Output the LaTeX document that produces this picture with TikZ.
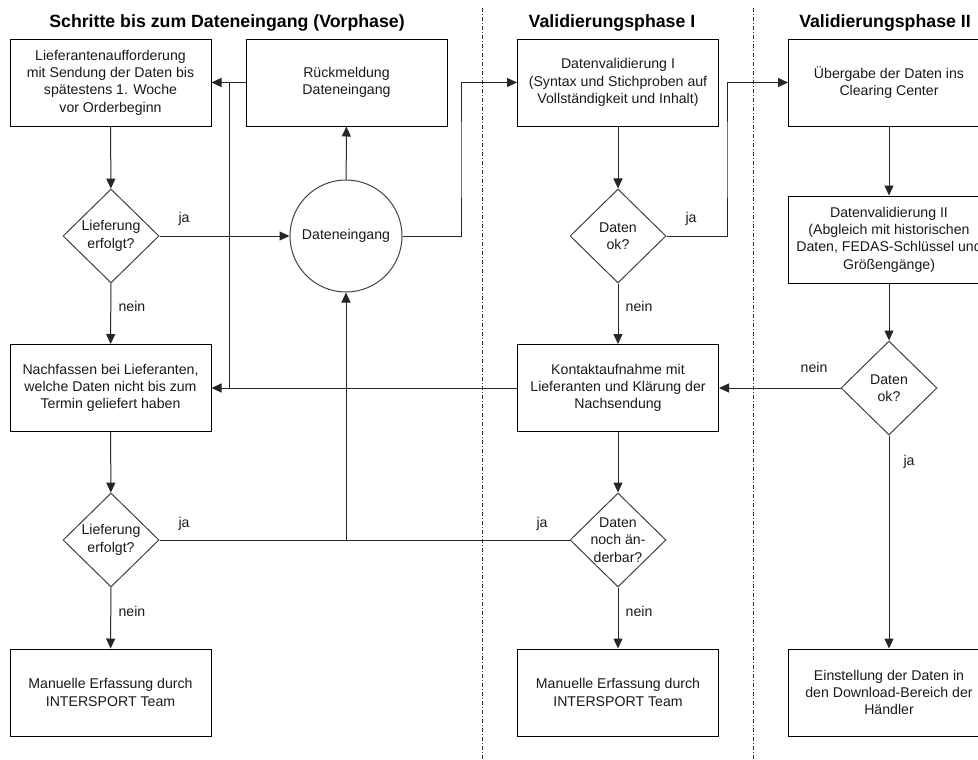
\documentclass[tikz,border=0pt]{standalone}
\usepackage{fontspec}
\setmainfont{Liberation Sans}
\usetikzlibrary{shapes.geometric,arrows.meta}
\begin{document}
\begin{tikzpicture}[x=0.75pt,y=-0.75pt,
  every node/.style={font=\fontsize{10.6}{13}\selectfont, text=black!90},
  stepbox/.style={draw=black, line width=0.75pt, minimum width=150.75pt, minimum height=65.25pt, inner sep=0pt, align=center},
  decision/.style={draw=black!75, line width=0.75pt, shape=diamond, minimum width=72pt, minimum height=70.5pt, inner sep=0pt},
  dtext/.style={align=center, inner sep=0pt},
  eventnode/.style={draw=black!75, line width=0.75pt, circle, minimum size=84pt, inner sep=0pt},
  flow/.style={draw=black!85, line width=0.75pt, -{Triangle[length=7.5pt,width=6.75pt]}},
  plain/.style={draw=black!85, line width=0.75pt},
  lane/.style={draw=black!80, line width=0.6pt, dash pattern=on 3pt off 1.5pt on 0.75pt off 1.5pt},
  phasetitle/.style={font=\fontsize{13.3}{15}\selectfont\bfseries, text=black},
  lbl/.style={inner sep=0pt}
]
\useasboundingbox (0,0) rectangle (978,760);
\clip (0,0) rectangle (978,760);

% lane separators
\coordinate (s1t) at (482,8);
\coordinate (s1b) at (482,760);
\coordinate (s2t) at (753,8);
\coordinate (s2b) at (753,760);
\draw[lane] (s1t) -- (s1b);
\draw[lane] (s2t) -- (s2b);

% phase titles
\node[phasetitle] (t1) at (227,23) {Schritte bis zum Dateneingang (Vorphase)};
\node[phasetitle] (t2) at (612,23) {Validierungsphase I};
\node[phasetitle] (t3) at (885,23) {Validierungsphase II};

% pre-phase column
\node[stepbox] (req) at (110.5,82.5) {Lieferantenaufforderung\\mit Sendung der Daten bis\\spätestens 1. Woche\\vor Orderbeginn};
\node[stepbox] (ack) at (346.5,82.5) {Rückmeldung\\Dateneingang};
\node[decision] (d1) at (111,236) {};
\node[dtext] (d1t) at (d1.center) {Lieferung\\erfolgt?};
\node[eventnode] (recv) at (346,236) {Dateneingang};
\node[stepbox] (follow) at (110.5,388) {Nachfassen bei Lieferanten,\\welche Daten nicht bis zum\\Termin geliefert haben};
\node[decision] (d2) at (111,540) {};
\node[dtext] (d2t) at (d2.center) {Lieferung\\erfolgt?};
\node[stepbox] (man1) at (110.5,692.5) {Manuelle Erfassung durch\\INTERSPORT Team};

% validation phase I
\node[stepbox] (val1) at (618,82.5) {Datenvalidierung I\\(Syntax und Stichproben auf\\Vollständigkeit und Inhalt)};
\node[decision] (ok1) at (618,236) {};
\node[dtext] (ok1t) at (ok1.center) {Daten\\ok?};
\node[stepbox] (contact) at (618,388) {Kontaktaufnahme mit\\Lieferanten und Klärung der\\Nachsendung};
\node[decision] (chg) at (618,540) {};
\node[dtext] (chgt) at (chg.center) {Daten\\noch än-\\derbar?};
\node[stepbox] (man2) at (618,692.5) {Manuelle Erfassung durch\\INTERSPORT Team};

% validation phase II
\node[stepbox] (hand) at (889,82.5) {Übergabe der Daten ins\\Clearing Center};
\node[stepbox] (val2) at (889,239.5) {Datenvalidierung II\\(Abgleich mit historischen\\Daten, FEDAS-Schlüssel und\\Größengänge)};
\node[decision] (ok2) at (889,388) {};
\node[dtext] (ok2t) at (ok2.center) {Daten\\ok?};
\node[stepbox] (publish) at (889,692.5) {Einstellung der Daten in\\den Download-Bereich der\\Händler};

% junction points
\coordinate (jtop) at (229,82.5);
\coordinate (jbot) at (229,388);
\coordinate (jmid) at (346,540);
\coordinate (bend1) at (461,160);
\coordinate (bend2) at (727,160);

% connectors, pre-phase
\draw[flow] (req) -- (d1);
\draw[flow] (d1) -- (recv);
\draw[flow] (d1) -- (follow);
\draw[flow] (recv) -- (ack);
\draw[flow] (ack) -- (req);
\draw[plain] (jtop) -- (jbot);
\draw[flow] (contact) -- (follow);
\draw[flow] (follow) -- (d2);
\draw[flow] (d2) -- (man1);
\draw[plain] (d2.east) -- (chg.west);
\draw[flow] (jmid) -- (recv);
\draw[flow] (recv.east) -| (bend1) |- (val1.west);

% connectors, validation I
\draw[flow] (val1) -- (ok1);
\draw[flow] (ok1.east) -| (bend2) |- (hand.west);
\draw[flow] (ok1) -- (contact);
\draw[flow] (contact) -- (chg);
\draw[flow] (chg) -- (man2);

% connectors, validation II
\draw[flow] (hand) -- (val2);
\draw[flow] (val2) -- (ok2);
\draw[flow] (ok2) -- (contact);
\draw[flow] (ok2) -- (publish);

% branch labels
\node[lbl] (l1) at (184,219) {ja};
\node[lbl] (l2) at (132,306) {nein};
\node[lbl] (l3) at (184,524) {ja};
\node[lbl] (l4) at (132,611) {nein};
\node[lbl] (l5) at (691,219) {ja};
\node[lbl] (l6) at (639,306) {nein};
\node[lbl] (l7) at (542,524) {ja};
\node[lbl] (l8) at (639,611) {nein};
\node[lbl] (l9) at (814,367) {nein};
\node[lbl] (l10) at (909,462) {ja};
\end{tikzpicture}
\end{document}
